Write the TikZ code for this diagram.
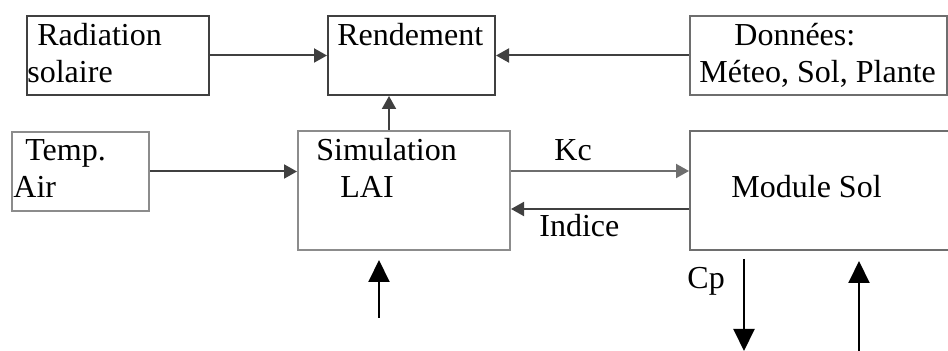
\documentclass[tikz,border=0pt]{standalone}
\usepackage{fontspec}
\setmainfont{Liberation Serif}
\usetikzlibrary{arrows.meta}
\definecolor{dark}{RGB}{64,64,64}
\definecolor{mid}{RGB}{110,110,110}
\definecolor{light}{RGB}{140,140,140}
\begin{document}
\begin{tikzpicture}[x=0.5pt,y=-0.5pt,font=\fontsize{16pt}{18.5pt}\selectfont,
	box/.style={draw,line width=1pt,inner sep=0pt,anchor=north west},
	txt/.style={inner sep=0pt,anchor=base west,align=left},
	arr/.style={line width=1pt,-{Triangle[length=6.5pt,width=7pt]}},
	bigarr/.style={line width=1pt,black,-{Triangle[length=11pt,width=10.5pt]}}]
	\useasboundingbox (0,0) rectangle (948,351);
	\node[box,dark,minimum width=91pt,minimum height=39.5pt] (rad) at (26,15) {};
	\node[box,dark,minimum width=83.5pt,minimum height=39.5pt] (rend) at (327,15) {};
	\node[box,mid,minimum width=128.5pt,minimum height=39.5pt] (don) at (689,15) {};
	\node[box,light,minimum width=68.5pt,minimum height=39.5pt] (temp) at (11,131) {};
	\node[box,light,minimum width=106pt,minimum height=59.5pt] (sim) at (297,130) {};
	\node[box,mid,minimum width=132pt,minimum height=59.5pt] (sol) at (689,130) {};
	\node[txt] (radtxt) at (27,83) {\hspace{5pt}Radiation\\solaire};
	\node[txt] (rendtxt) at (337,46) {Rendement};
	\node[txt] (dontxt) at (699,83) {\hspace{17.5pt}Données:\\Méteo, Sol, Plante};
	\node[txt] (temptxt) at (13,198) {\hspace{6pt}Temp.\\Air};
	\node[txt] (simtxt) at (316,198) {Simulation\\\hspace{12pt}LAI};
	\node[txt] (soltxt) at (731,198) {Module Sol};
	\node[txt] (kc) at (554,161) {Kc};
	\node[txt] (ind) at (539,237) {Indice};
	\node[txt] (cp) at (687,289) {Cp};
	\coordinate (laiin) at (379,318);
	\coordinate (laitip) at (379,260);
	\coordinate (cpout) at (744,259);
	\coordinate (cptip) at (744,351);
	\coordinate (solin) at (859,351);
	\coordinate (soltip) at (859,261);
	\draw[arr,dark] (rad.east) -- (rend.west);
	\draw[arr,dark] (don.west) -- (rend.east);
	\draw[arr,dark] ([xshift=-11.25pt]sim.north -| rend.south) -- ([xshift=-11.25pt]rend.south);
	\draw[arr,dark] (temp.east) -- (temp.east -| sim.west);
	\draw[arr,mid] ([yshift=9.75pt]sim.east) -- ([yshift=9.75pt]sol.west -| sol.west);
	\draw[arr,dark] ([yshift=-9.25pt]sol.west) -- ([yshift=-9.25pt]sim.east);
	\draw[bigarr] (laiin) -- (laitip);
	\draw[bigarr] (cpout) -- (cptip);
	\draw[bigarr] (solin) -- (soltip);
\end{tikzpicture}
\end{document}
